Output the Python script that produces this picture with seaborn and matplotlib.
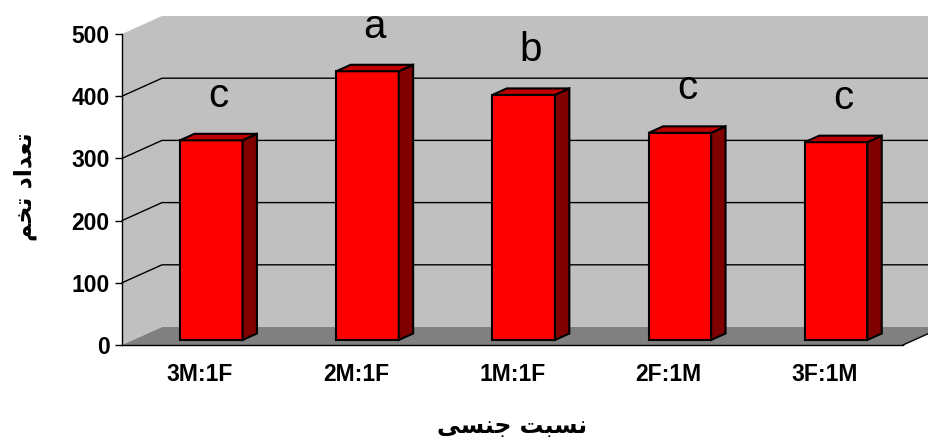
import pandas as pd
import seaborn as sns
import matplotlib
matplotlib.use('Agg')
import matplotlib.pyplot as plt
from matplotlib.patches import Polygon
from matplotlib.transforms import Affine2D

# data
ratios = ['3M:1F', '2M:1F', '1M:1F', '2F:1M', '3F:1M']
eggs = [321, 432, 394, 333, 318]
letters = ['c', 'a', 'b', 'c', 'c']
yticks = [0, 100, 200, 300, 400, 500]

# persian titles, written in presentation forms and visual order
xtitle = '\ufef0\ufeb4\ufee8\ufe9f \ufe96\ufe92\ufeb4\ufee7'   # nesbat-e jensi
ytitle = '\ufee2\ufea8\ufe97 \ufea9\ufe8d\ufeaa\ufecc\ufe97'   # tedad-e tokhm

df = pd.DataFrame({'ratio': ratios, 'eggs': eggs})

sns.set_style('white')
plt.rcParams['font.family'] = ['Liberation Sans', 'DejaVu Sans']
plt.rcParams.update({'text.color': 'black', 'xtick.color': 'black', 'ytick.color': 'black',
                     'axes.labelcolor': 'black'})

fig = plt.figure(figsize=(9.29, 4.47), dpi=100)
ax = fig.add_axes([122/929, 102/447, 781/929, 311/447])

sns.barplot(data=df, x='ratio', y='eggs', color='#FF0000', saturation=1, width=0.4,
            edgecolor='black', linewidth=1.5, ax=ax, zorder=3)
bars = list(ax.patches)

ax.set_xlim(-0.5, 4.5); ax.set_ylim(0, 500)

# depth of the 3d box: 40px right, 18px up -> data units
p = ax.transData.transform([[0, 0], [1, 1]])
dx = 40 / (p[1, 0] - p[0, 0]); dy = 18 / (p[1, 1] - p[0, 1])
f0, f1 = 0.28, 0.64   # bar front / back depth fractions
x0, x1 = -0.5, 4.5; top = 500

# walls and floor
ax.add_patch(Polygon([(x0+dx, dy), (x0+dx, top+dy), (x1+dx, top+dy), (x1+dx, dy)],
                     fc='#C0C0C0', ec='none', zorder=0, clip_on=False))
ax.add_patch(Polygon([(x0, 0), (x0, top), (x0+dx, top+dy), (x0+dx, dy)],
                     fc='#C0C0C0', ec='none', zorder=0, clip_on=False))
ax.add_patch(Polygon([(x0, 0), (x1, 0), (x1+dx, dy), (x0+dx, dy)],
                     fc='#808080', ec='none', zorder=0.5, clip_on=False))
for v in yticks[1:-1]:
    ax.plot([x0, x0+dx, x1+dx], [v, v+dy, v+dy], color='black', lw=1, zorder=1, clip_on=False)
ax.plot([x1, x1+dx], [0, dy], color='black', lw=1, zorder=1, clip_on=False)

# 3d bars
shift = Affine2D().translate(f0*dx, f0*dy) + ax.transData
for bar, lab in zip(bars, letters):
    bar.set_transform(shift)
    bx, w, h = bar.get_x(), bar.get_width(), bar.get_height()
    side = [(bx+w+f0*dx, f0*dy), (bx+w+f0*dx, h+f0*dy), (bx+w+f1*dx, h+f1*dy), (bx+w+f1*dx, f1*dy)]
    lid = [(bx+f0*dx, h+f0*dy), (bx+w+f0*dx, h+f0*dy), (bx+w+f1*dx, h+f1*dy), (bx+f1*dx, h+f1*dy)]
    ax.add_patch(Polygon(side, fc='#800000', ec='black', lw=1.5, zorder=3, clip_on=False))
    ax.add_patch(Polygon(lid, fc='#C00000', ec='black', lw=1.5, zorder=3, clip_on=False))
    ax.annotate(lab, xy=(bx + w/2 + (f0+f1)/2*dx, h + f1*dy), xytext=(0, 27), textcoords='offset pixels',
                ha='center', va='baseline', fontsize=29, color='black', zorder=5)

for s in ['top', 'right']:
    ax.spines[s].set_visible(False)
for s in ['left', 'bottom']:
    ax.spines[s].set_color('black'); ax.spines[s].set_linewidth(1); ax.spines[s].set_zorder(2)

ax.set_xticks(range(len(ratios)))
ax.set_xticklabels(ratios, fontsize=16.5, fontweight='bold')
ax.set_xticks([i - 0.5 for i in range(len(ratios) + 1)], minor=True)
ax.tick_params(axis='x', which='major', length=0, pad=13)
ax.tick_params(axis='x', which='minor', length=6, width=1, color='black', direction='out')
ax.set_yticks(yticks)
ax.set_yticklabels([str(v) for v in yticks], fontsize=16.5, fontweight='bold')
ax.tick_params(axis='y', length=5, width=1, color='black', direction='out', pad=4, left=True)
ax.set_xlabel(''); ax.set_ylabel('')

fig.text(512/929, 1 - 426/447, xtitle, ha='center', va='center', fontsize=17,
         fontweight='bold', family=['DejaVu Sans'])
fig.text(25/929, 1 - 187/447, ytitle, ha='center', va='center', fontsize=17, rotation=90,
         fontweight='bold', family=['DejaVu Sans'])

plt.savefig('out.png', dpi=100)
